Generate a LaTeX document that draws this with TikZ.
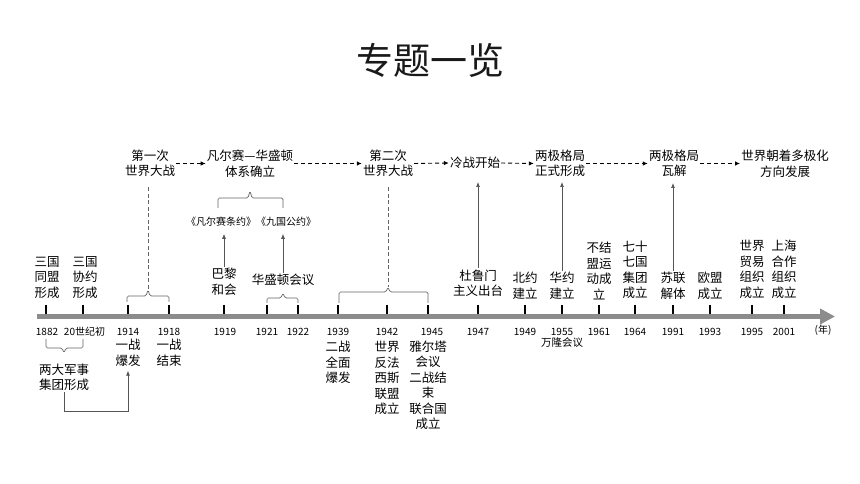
\documentclass[tikz,border=0pt]{standalone}
\usepackage{fontspec}
\setmainfont{Noto Sans CJK SC}
\usetikzlibrary{arrows.meta}
\definecolor{axisgray}{RGB}{140,140,140}
\definecolor{linegray}{RGB}{85,85,85}
\definecolor{bracegray}{RGB}{100,100,100}
\begin{document}
\begin{tikzpicture}[x=1bp,y=-1bp,
  lbl/.style={font=\fontsize{12.5bp}{15.5bp}\selectfont, align=center, inner sep=1bp, text=black},
  sm/.style={font=\fontsize{10.5bp}{12bp}\selectfont, inner sep=1bp, text=black},
  yr/.style={font=\fontsize{10bp}{12bp}\selectfont, inner sep=0pt, text=black},
  titlest/.style={font=\fontsize{37bp}{40bp}\selectfont, inner sep=0pt, text=black!90},
  dasharr/.style={-{Latex[length=5bp,width=4.5bp]}, dash pattern=on 4bp off 3bp, line width=0.9bp, black},
  uparr/.style={-{Latex[length=5bp,width=4bp]}, line width=0.7bp, linegray},
  brc/.style={line width=0.7bp, bracegray, rounded corners=1.5bp},
  vdash/.style={dash pattern=on 4bp off 2.5bp, line width=0.8bp, bracegray},
  tickst/.style={line width=1.1bp, black},
  axisst/.style={line width=5bp, axisgray, -{Triangle[length=15bp,width=15bp]}}
]
\useasboundingbox[fill=white] (0,0) rectangle (860,484);

% title
\node[titlest] (ttl) at (430,60) {专题一览};

% top row
\node[lbl] (w1) at (150,163.5) {第一次\\世界大战};
\node[lbl] (vw) at (250,163.5) {凡尔赛—华盛顿\\体系确立};
\node[lbl] (w2) at (388,163.5) {第二次\\世界大战};
\node[lbl] (cw) at (475,163) {冷战开始};
\node[lbl] (bp) at (560,163.5) {两极格局\\正式形成};
\node[lbl] (bd) at (674,163.5) {两极格局\\瓦解};
\node[lbl] (mp) at (785,163.5) {世界朝着多极化\\方向发展};

\draw[dasharr] (w1.east) -- (vw.west);
\draw[dasharr] (vw.east) -- (w2.west);
\draw[dasharr] (w2.east) -- (cw.west);
\draw[dasharr] (cw.east) -- (bp.west);
\draw[dasharr] (bp.east) -- (bd.west);
\draw[dasharr] (bd.east) -- (mp.west);

% treaties
\node[sm, font=\fontsize{10bp}{12bp}\selectfont] (tt) at (251,222) {《凡尔赛条约》《九国公约》};
\draw[brc] (218,208) -- (218,198) -- (248,198) -- (250,191) -- (252,198) -- (283,198) -- (283,208);

% axis
\coordinate (axs) at (37,316.5);
\coordinate (axe) at (835,316.5);
\draw[axisst] (axs) -- (axe);
\foreach \x in {46,83,128,169,224,267,298,338,387,428,478,525,562,599,635,673,710,752,784}
  \draw[tickst] (\x,305) -- (\x,314);

% year labels
\foreach \x/\t [count=\i] in {47/1882,84.5/20世纪初,128/1914,169/1918,225/1919,267/1921,298/1922,338/1939,387/1942,432/1945,478/1947,525/1949,562/1955,599/1961,635/1964,673/1991,710/1993,752/1995,784/2001}
  \node[yr] (yl\i) at (\x,332) {\t};
\node[yr] (unit) at (823,330) {(年)};

% above-axis labels
\node[lbl] (ta) at (47,277.5) {三国\\同盟\\形成};
\node[lbl] (te) at (85,277.5) {三国\\协约\\形成};
\node[lbl] (pl) at (224,281.5) {巴黎\\和会};
\node[lbl] (hs) at (283,280) {华盛顿会议};
\node[lbl] (tr) at (478,283) {杜鲁门\\主义出台};
\node[lbl] (nato) at (525,285.5) {北约\\建立};
\node[lbl] (wp) at (562,285.5) {华约\\建立};
\node[lbl] (nam) at (599,271) {不结\\盟运\\动成\\立};
\node[lbl] (g77) at (635,270) {七十\\七国\\集团\\成立};
\node[lbl] (ussr) at (673,286) {苏联\\解体};
\node[lbl] (eu) at (710,286) {欧盟\\成立};
\node[lbl] (wto) at (752,269.5) {世界\\贸易\\组织\\成立};
\node[lbl] (sco) at (784,269.5) {上海\\合作\\组织\\成立};

% braces above axis
\coordinate (b1) at (148,290);
\coordinate (b2) at (388,287);
\draw[brc] (127,302) -- (127,296) -- (146,296) -- (b1) -- (150,296) -- (169,296) -- (169,302);
\draw[brc] (267,303) -- (267,298) -- (281,298) -- (283,293) -- (285,298) -- (298,298) -- (298,303);
\draw[brc] (339,303) -- (339,292) -- (386,292) -- (b2) -- (390,292) -- (428,292) -- (428,303);
\draw[vdash, shorten <=9bp] (w1.south -| b1) -- (b1);
\draw[vdash, shorten <=9bp] (w2.south -| b2) -- (b2);

% vertical arrows
\coordinate (a1) at (478,182);
\coordinate (a2) at (562,182);
\coordinate (a3) at (673,183);
\draw[uparr] (tr.north) -- (a1);
\draw[uparr] (wp.north) -- (a2);
\draw[uparr] (ussr.north) -- (a3);
\draw[uparr] (pl.north) -- ([yshift=-6bp]pl.north |- tt.south);
\draw[uparr] (hs.north) -- ([yshift=-6bp]hs.north |- tt.south);

% below-axis labels
\node[lbl] (ob) at (128,353) {一战\\爆发};
\node[lbl] (oe) at (169,353) {一战\\结束};
\node[lbl] (sb) at (338,362.5) {二战\\全面\\爆发};
\node[lbl] (al) at (387,378) {世界\\反法\\西斯\\联盟\\成立};
\node[lbl] (ya) at (428,385.5) {雅尔塔\\会议\\二战结\\束\\联合国\\成立};
\node[sm] (bl) at (562,343) {万隆会议};
\node[lbl] (jt) at (64,377.5) {两大军事\\集团形成};

\draw[brc] (46,339) -- (46,348) -- (62,348) -- (64,353) -- (66,348) -- (83,348) -- (83,339);
\coordinate (c1) at (64,411);
\draw[uparr, shorten >=3bp] (jt.south) -- (c1) -| (ob.south);
\end{tikzpicture}
\end{document}
